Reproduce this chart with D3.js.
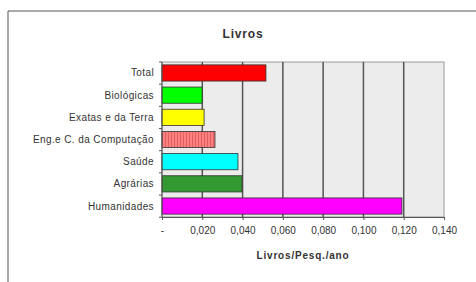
<!DOCTYPE html>
<html>
<head>
<meta charset="utf-8">
<script src="https://cdn.jsdelivr.net/npm/d3@7"></script>
<style>
  body { margin: 0; background: #fff; }
  text { font-family: "Liberation Sans", Arial, sans-serif; fill: #333; }
</style>
</head>
<body>
<script>
// data
var categories = ["Total", "Biológicas", "Exatas e da Terra", "Eng.e C. da Computação", "Saúde", "Agrárias", "Humanidades"];
var values = [0.0516, 0.0199, 0.0209, 0.0263, 0.0377, 0.0397, 0.1191];
var barColors = ["#ff0000", "#00ff00", "#ffff00", "url(#stripes)", "#00ffff", "#339933", "#ff00ff"];
var tickValues = [0, 0.02, 0.04, 0.06, 0.08, 0.1, 0.12, 0.14];
var tickLabels = ["-", "0,020", "0,040", "0,060", "0,080", "0,100", "0,120", "0,140"];

var W = 476, H = 282;
var margin = {top: 62, left: 162, right: 32, bottom: 65};
var width = W - margin.left - margin.right,
    height = H - margin.top - margin.bottom;

var svg = d3.select("body").append("svg")
    .attr("width", W)
    .attr("height", H);

// stripe pattern for the Eng. bar
var pat = svg.append("defs").append("pattern")
    .attr("id", "stripes")
    .attr("patternUnits", "userSpaceOnUse")
    .attr("width", 3).attr("height", 6);
pat.append("rect").attr("width", 3).attr("height", 6).attr("fill", "#ff8080");
pat.append("rect").attr("width", 1).attr("height", 6).attr("fill", "#e06060");

// outer frame (only left and top edges show)
svg.append("line").attr("x1", 8).attr("y1", 11).attr("x2", W + 5).attr("y2", 11)
    .attr("stroke", "#555").attr("stroke-width", 1);
svg.append("line").attr("x1", 8).attr("y1", 11).attr("x2", 8).attr("y2", H + 5)
    .attr("stroke", "#555").attr("stroke-width", 1);

var g = svg.append("g")
    .attr("transform", "translate(" + margin.left + "," + margin.top + ")");

var x = d3.scaleLinear().domain([0, 0.14]).range([0, width]);
var y = d3.scaleBand().domain(categories).range([0, height]).paddingInner(0.27).paddingOuter(0.13);

// plot background
g.append("rect")
    .attr("width", width).attr("height", height)
    .attr("fill", "#ececec")
    .attr("stroke", "#999").attr("stroke-width", 1);

// gridlines
g.selectAll(".grid")
    .data(tickValues.slice(1, -1))
  .enter().append("line")
    .attr("x1", function(d) { return x(d); })
    .attr("x2", function(d) { return x(d); })
    .attr("y1", 0).attr("y2", height)
    .attr("stroke", "#555").attr("stroke-width", 1.5);

// bars
g.selectAll(".bar")
    .data(categories)
  .enter().append("rect")
    .attr("x", 0)
    .attr("y", function(d) { return y(d); })
    .attr("width", function(d, i) { return x(values[i]); })
    .attr("height", y.bandwidth())
    .attr("fill", function(d, i) { return barColors[i]; })
    .attr("stroke", "#333").attr("stroke-width", 0.8);

// y axis: category labels and ticks at band edges
var step = y.step();
g.selectAll(".ytick")
    .data(d3.range(categories.length + 1))
  .enter().append("line")
    .attr("x1", -3).attr("x2", 0)
    .attr("y1", function(i) { return i * step; })
    .attr("y2", function(i) { return i * step; })
    .attr("stroke", "#555");
g.append("line").attr("x1", 0).attr("x2", 0).attr("y1", 0).attr("y2", height)
    .attr("stroke", "#555");

g.selectAll(".ylab")
    .data(categories)
  .enter().append("text")
    .attr("x", -8)
    .attr("y", function(d) { return y(d) + y.bandwidth() / 2; })
    .attr("dy", "0.35em")
    .attr("text-anchor", "end")
    .style("font-size", "10px")
    .style("letter-spacing", "0.4px")
    .text(function(d) { return d; });

// x axis
var xAxis = g.append("g")
    .attr("transform", "translate(0," + height + ")")
    .call(d3.axisBottom(x).tickValues(tickValues)
      .tickSize(3).tickFormat(function(d, i) { return tickLabels[i]; }));
xAxis.select(".domain").attr("stroke", "#555");
xAxis.selectAll(".tick line").attr("stroke", "#555");
xAxis.selectAll(".tick text")
    .attr("y", 10)
    .style("font-family", "'Liberation Sans', Arial, sans-serif")
    .style("font-size", "10px")
    .attr("fill", "#333");

// titles
svg.append("text")
    .attr("x", 243).attr("y", 38)
    .attr("text-anchor", "middle")
    .style("font-size", "12px").style("font-weight", "bold")
    .style("letter-spacing", "0.8px")
    .text("Livros");

svg.append("text")
    .attr("x", 303).attr("y", 259)
    .attr("text-anchor", "middle")
    .style("font-size", "10px").style("font-weight", "bold")
    .style("letter-spacing", "0.8px")
    .text("Livros/Pesq./ano");
</script>
</body>
</html>
